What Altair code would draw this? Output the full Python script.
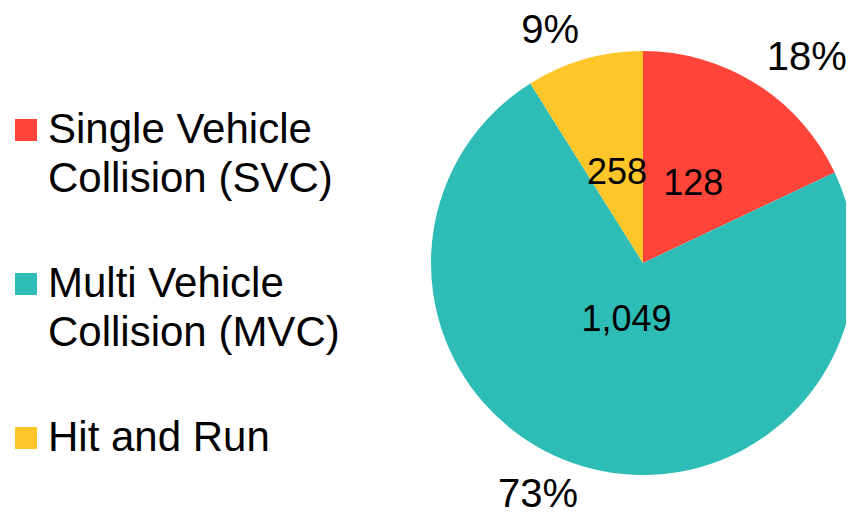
import altair as alt
import pandas as pd

# Slice order clockwise from 12 o'clock
categories = ["Single Vehicle\nCollision (SVC)", "Multi Vehicle\nCollision (MVC)", "Hit and Run"]
counts = [258, 1049, 128]                 # slice sizes
inner_labels = ["128", "1,049", "258"]    # numbers printed inside the pie (as shown)
percent_labels = ["18%", "73%", "9%"]     # outside labels
colors = ["#FF4539", "#2EBDB6", "#FFC629"]

df = pd.DataFrame({
    "category": categories,
    "count": counts,
    "inner": inner_labels,
    "pct": percent_labels,
    "idx": list(range(len(categories))),
})

FONT = "Liberation Sans"

base = alt.Chart(df).encode(
    theta=alt.Theta("count:Q", stack=True),
    order=alt.Order("idx:Q"),
    x=alt.value(635),
    y=alt.value(255),
)

pie = base.mark_arc(outerRadius=212).encode(
    color=alt.Color(
        "category:N",
        scale=alt.Scale(domain=categories, range=colors),
        sort=categories,
        legend=alt.Legend(
            title=None,
            orient="none",
            legendX=-3,
            legendY=101,
            symbolType="square",
            symbolSize=484,
            symbolStrokeWidth=0,
            labelFont=FONT,
            labelFontSize=42,
            labelColor="black",
            labelOffset=1,
            labelLimit=500,
            labelBaseline="middle",
            labelExpr="split(datum.label, '\\n')",
            rowPadding=63,
            padding=0,
        ),
    )
)

inner_small = base.mark_text(radius=94, font=FONT, fontSize=36, color="black").encode(
    text=alt.condition("datum.idx != 1", alt.Text("inner:N"), alt.value(""))
)
inner_big = base.mark_text(radius=59, font=FONT, fontSize=36, color="black").encode(
    text=alt.condition("datum.idx == 1", alt.Text("inner:N"), alt.value(""))
)

outer = (
    base.transform_joinaggregate(total="sum(count)")
    .transform_window(cum="sum(count)", sort=[alt.SortField("idx")], frame=[None, 0])
    .transform_calculate(mid="(datum.cum - datum.count / 2) / datum.total")
    .mark_text(
        radius=231,
        font=FONT,
        fontSize=40,
        color="black",
        align={"expr": "datum.mid < 0.5 ? 'left' : 'right'"},
        baseline={"expr": "(datum.mid < 0.25 || datum.mid > 0.75) ? 'alphabetic' : 'top'"},
        dy={"expr": "(datum.mid > 0.25 && datum.mid < 0.75) ? -10 : 2"},
    )
    .encode(text="pct:N")
)

chart = (
    alt.layer(pie, inner_small, inner_big, outer)
    .properties(width=838, height=502, padding=0, autosize=alt.AutoSizeParams(type="none"))
    .configure(style={"guide-label": {"lineHeight": 49}})
    .configure_view(stroke=None)
)

chart.save("out.html", embed_options={"renderer": "svg", "actions": False})
